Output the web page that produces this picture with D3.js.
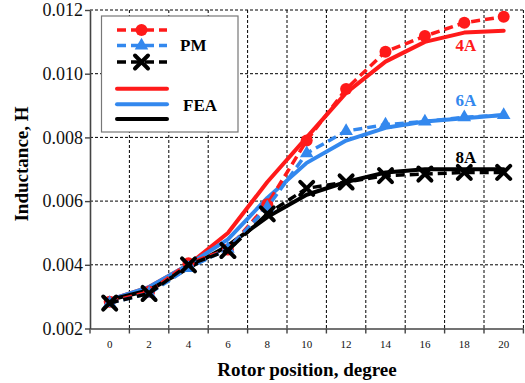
<!DOCTYPE html>
<html>
<head>
<meta charset="utf-8">
<script src="https://cdn.jsdelivr.net/npm/d3@7"></script>
<style>
  body { margin: 0; background: #fff; }
  svg text { font-family: "Liberation Serif", "Times New Roman", serif; }
</style>
</head>
<body>
<figure id="chart" style="margin:0"></figure>
<script>
// rotor position categories (degree)
const positions = ["0", "2", "4", "6", "8", "10", "12", "14", "16", "18", "20"];
const yTicks = [0.002, 0.004, 0.006, 0.008, 0.010, 0.012];

// PM model (dashed with markers)
const pm4A = [0.00284, 0.00315, 0.00405, 0.00448, 0.0059, 0.0079, 0.00952, 0.01069, 0.01118, 0.0116, 0.01179];
const pm6A = [0.0028, 0.0031, 0.0039, 0.0045, 0.0058, 0.0075, 0.0082, 0.0084, 0.0085, 0.00863, 0.0087];
const pm8A = [0.0028, 0.0031, 0.0040, 0.00445, 0.0056, 0.0064, 0.0066, 0.0068, 0.00685, 0.0069, 0.0069];

// FEA (solid)
const fea4A = [0.0029, 0.0033, 0.0040, 0.0050, 0.0066, 0.0080, 0.0094, 0.01038, 0.0110, 0.01129, 0.01135];
const fea6A = [0.0029, 0.0033, 0.0040, 0.0048, 0.0061, 0.0072, 0.0079, 0.0083, 0.0085, 0.0086, 0.0087];
const fea8A = [0.0029, 0.0032, 0.0039, 0.0046, 0.0055, 0.0062, 0.0066, 0.0069, 0.0070, 0.0070, 0.0070];

const currents = ["4A", "6A", "8A"];

const width = 525, height = 383;
const mLeft = 90, mRight = 523.4, mTop = 10, mBottom = 328.5;
const RED = "#ff1a1a", BLUE = "#3388ee", BLACK = "#000";
const colors = [RED, BLUE, BLACK];

const svg = d3.select("#chart").append("svg")
  .attr("width", width).attr("height", height);

const x = d3.scaleBand().domain(positions).range([mLeft, mRight]);
const y = d3.scaleLinear().domain([0.002, 0.012]).range([mBottom, mTop]);
const cx = d => x(d) + x.bandwidth() / 2;

// grid
const grid = svg.append("g").attr("stroke", "#000").attr("stroke-width", 1)
  .attr("stroke-dasharray", "3,2");
positions.forEach(p => {
  const gx = x(p) + x.bandwidth();
  grid.append("line").attr("x1", gx).attr("x2", gx).attr("y1", mTop).attr("y2", mBottom);
});
yTicks.slice(1).forEach(t => {
  grid.append("line").attr("x1", mLeft).attr("x2", mRight).attr("y1", y(t)).attr("y2", y(t));
});

// axes
const yAxis = svg.append("g").attr("transform", `translate(${mLeft},0)`)
  .call(d3.axisLeft(y).tickValues(yTicks).tickFormat(d3.format(".3f")).tickSize(5).tickSizeOuter(0));
yAxis.select(".domain").attr("stroke", "#444").attr("stroke-width", 1.6);
yAxis.selectAll(".tick line").attr("stroke", "#444").attr("stroke-width", 1.4);
yAxis.selectAll("text").attr("font-size", 18).attr("fill", "#111").attr("x", -7)
  .style("font-family", "Liberation Serif");

const xAxis = svg.append("g").attr("transform", `translate(0,${mBottom})`)
  .call(d3.axisBottom(x).tickSize(0).tickPadding(12));
xAxis.select(".domain").attr("stroke", "#444").attr("stroke-width", 1.6);
xAxis.selectAll("text").attr("font-size", 11).attr("fill", "#111")
  .style("font-family", "Liberation Serif");
[positions[0]].concat(positions).forEach((p, i) => {
  const tx = i === 0 ? x(p) : x(p) + x.bandwidth();
  svg.append("line").attr("x1", tx).attr("x2", tx).attr("y1", mBottom).attr("y2", mBottom + 5)
    .attr("stroke", "#444").attr("stroke-width", 1.4);
});

// axis titles
svg.append("text").attr("x", 307).attr("y", 376).attr("text-anchor", "middle")
  .attr("font-size", 19).attr("font-weight", "bold").text("Rotor position, degree");
svg.append("text").attr("transform", "translate(28,164) rotate(-90)").attr("text-anchor", "middle")
  .attr("font-size", 19).attr("font-weight", "bold").text("Inductance, H");

// lines
const lineOf = d3.line().x((d, i) => cx(positions[i])).y(d => y(d));

const plot = svg.append("g");
[fea4A, fea6A, fea8A].forEach((s, k) => {
  plot.append("path").datum(s).attr("d", lineOf).attr("fill", "none")
    .attr("stroke", colors[k]).attr("stroke-width", 4).attr("stroke-linecap", "round")
    .attr("stroke-linejoin", "round");
});

function marker(g, k, px, py) {
  if (k === 0) {
    g.append("circle").attr("cx", px).attr("cy", py).attr("r", 6).attr("fill", RED);
  } else if (k === 1) {
    g.append("path").attr("d", d3.symbol(d3.symbolTriangle, 80)()).attr("transform", `translate(${px},${py})`)
      .attr("fill", BLUE);
  } else {
    const s = 6.5;
    g.append("path").attr("d", `M${px - s},${py - s}L${px + s},${py + s}M${px - s},${py + s}L${px + s},${py - s}`)
      .attr("stroke", BLACK).attr("stroke-width", 4).attr("stroke-linecap", "round");
  }
}

[pm4A, pm6A, pm8A].forEach((s, k) => {
  plot.append("path").datum(s).attr("d", lineOf).attr("fill", "none")
    .attr("stroke", colors[k]).attr("stroke-width", 3.5).attr("stroke-dasharray", "9,5");
  s.forEach((v, i) => marker(plot, k, cx(positions[i]), y(v)));
});

// current labels
const labelY = [45, 100, 157];
currents.forEach((c, k) => {
  svg.append("text").attr("x", 466).attr("y", labelY[k] + 6).attr("text-anchor", "middle")
    .attr("font-size", 17).attr("font-weight", "bold").attr("fill", colors[k]).text(c);
});

// legend
const lg = svg.append("g");
lg.append("rect").attr("x", 101.5).attr("y", 16).attr("width", 136.5).attr("height", 116)
  .attr("fill", "#fff").attr("stroke", "#777").attr("stroke-width", 1.2);
const rowsPM = [30, 45.5, 62];
const rowsFEA = [88.7, 104.3, 119];
rowsPM.forEach((ry, k) => {
  lg.append("line").attr("x1", 117).attr("x2", 167).attr("y1", ry).attr("y2", ry)
    .attr("stroke", colors[k]).attr("stroke-width", 3.5).attr("stroke-dasharray", "9,5");
  marker(lg, k, 141.5, ry);
});
rowsFEA.forEach((ry, k) => {
  lg.append("line").attr("x1", 117).attr("x2", 167).attr("y1", ry).attr("y2", ry)
    .attr("stroke", colors[k]).attr("stroke-width", 4).attr("stroke-linecap", "round");
});
lg.append("text").attr("x", 180).attr("y", 51).attr("font-size", 17).attr("font-weight", "bold").text("PM");
lg.append("text").attr("x", 183).attr("y", 111).attr("font-size", 17).attr("font-weight", "bold").text("FEA");
</script>
</body>
</html>
